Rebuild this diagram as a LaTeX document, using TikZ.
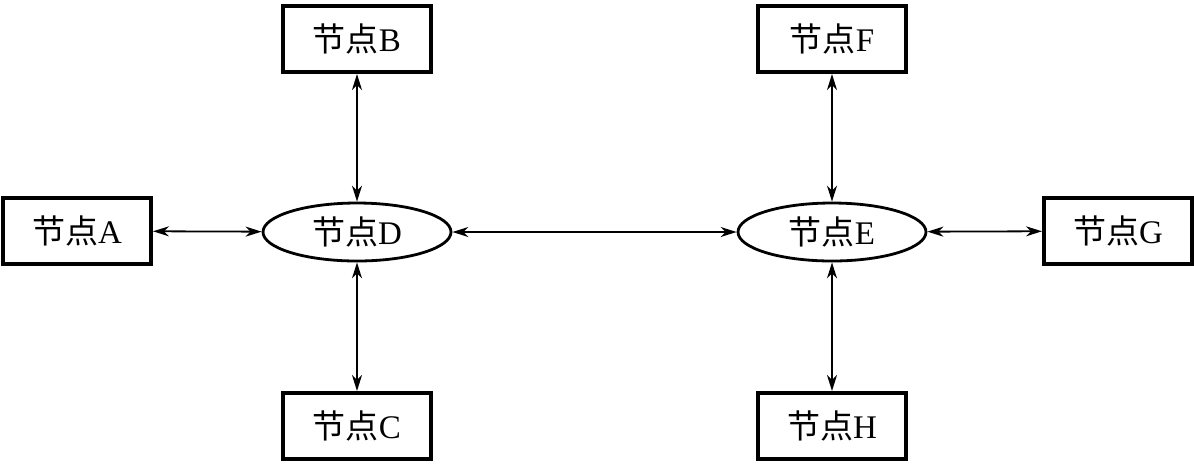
\documentclass[tikz,border=0pt]{standalone}
\usepackage{fontspec}
\setmainfont{Liberation Serif}
\newfontfamily\cjk{Noto Sans CJK SC}
\usetikzlibrary{arrows.meta,shapes.geometric}

\begin{document}
\begin{tikzpicture}[
  x=0.5pt, y=-0.5pt,
  box/.style={
    draw,
    line width=2pt,
    minimum width=74pt,
    minimum height=33pt,
    inner sep=0pt,
    font=\fontsize{16.5}{18}\selectfont
  },
  hub/.style={
    draw,
    ellipse,
    line width=1.4pt,
    minimum width=94pt,
    minimum height=29pt,
    inner sep=0pt,
    font=\fontsize{16.5}{18}\selectfont
  },
  arr/.style={{Stealth[length=8pt,width=5pt,inset=2.5pt]}-{Stealth[length=8pt,width=5pt,inset=2.5pt]}, line width=0.9pt}
]
\useasboundingbox (0,0) rectangle (1194,463);

\node[box] (a) at (77,231) {{\cjk 节点}A};
\node[box] (b) at (357,39) {{\cjk 节点}B};
\node[box] (c) at (357,426) {{\cjk 节点}C};
\node[hub] (d) at (357,232) {{\cjk 节点}D};
\node[hub] (e) at (832,232) {{\cjk 节点}E};
\node[box] (f) at (832,39) {{\cjk 节点}F};
\node[box] (g) at (1118,231) {{\cjk 节点}G};
\node[box] (h) at (832,426) {{\cjk 节点}H};

\draw[arr] (a) -- (d);
\draw[arr] (d) -- (e);
\draw[arr] (e) -- (g);
\draw[arr] (b) -- (d);
\draw[arr] (d) -- (c);
\draw[arr] (f) -- (e);
\draw[arr] (e) -- (h);

\end{tikzpicture}
\end{document}
